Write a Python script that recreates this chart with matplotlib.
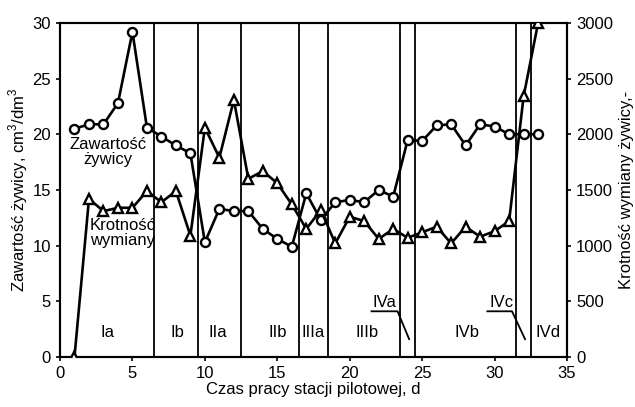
import matplotlib
matplotlib.use('Agg')
import matplotlib.pyplot as plt

plt.rcParams['font.family'] = ['Liberation Sans', 'DejaVu Sans']
plt.rcParams['mathtext.fontset'] = 'custom'
plt.rcParams['mathtext.rm'] = 'Liberation Sans'

days = list(range(1, 34))
resin = [20.5, 20.9, 20.9, 22.8, 29.2, 20.6, 19.8, 19.0, 18.3, 10.3,
         13.3, 13.1, 13.1, 11.5, 10.6, 9.9, 14.7, 12.3, 13.9, 14.1,
         13.9, 15.0, 14.4, 19.5, 19.4, 20.8, 20.9, 19.0, 20.9, 20.7,
         20.0, 20.0, 20.0]
exchange = [0, 1420, 1310, 1340, 1340, 1490, 1390, 1490, 1090, 2060,
            1790, 2310, 1600, 1670, 1560, 1370, 1150, 1320, 1020, 1260,
            1220, 1060, 1150, 1070, 1120, 1170, 1020, 1170, 1080, 1130,
            1220, 2340, 3000]

borders = [6.5, 9.5, 12.5, 16.5, 18.5, 23.5, 24.5, 31.5, 32.5]
stage_names = ['Ia', 'Ib', 'IIa', 'IIb', 'IIIa', 'IIIb', 'IVb', 'IVd']
stage_x = [3.3, 8.1, 10.9, 15.0, 17.5, 21.2, 28.1, 33.7]

fig = plt.figure(figsize=(6.35, 4.07), dpi=100)
ax = fig.add_axes([0.0945, 0.123, 0.7985, 0.8205])
ax2 = ax.twinx()

for b in borders:
    ax.axvline(b, color='black', lw=1.3, zorder=1)

ax.plot(days, resin, color='black', lw=1.9, marker='o', ms=6.5,
        mfc='white', mec='black', mew=1.7, zorder=3)
ax2.plot(days, exchange, color='black', lw=1.9, marker='^', ms=6.5,
         mfc='white', mec='black', mew=1.7, zorder=3)

for name, xs in zip(stage_names, stage_x):
    ax.text(xs, 2.2, name, ha='center', va='center', fontsize=12)

# odnosniki IVa i IVc
ax.text(22.4, 4.85, 'IVa', ha='center', va='center', fontsize=12)
ax.plot([21.5, 23.3, 24.1], [4.1, 4.1, 1.6], color='black', lw=1.3)
ax.text(30.5, 4.85, 'IVc', ha='center', va='center', fontsize=12)
ax.plot([29.5, 31.2, 32.1], [4.1, 4.1, 1.6], color='black', lw=1.3)

ax.text(3.3, 18.4, 'Zawartość\nżywicy', ha='center', va='center',
        fontsize=12, linespacing=1.0)
ax.text(4.3, 11.1, 'Krotność\nwymiany', ha='center', va='center',
        fontsize=12, linespacing=1.0)

ax.set_xlim(0, 35)
ax.set_ylim(0, 30)
ax2.set_ylim(0, 3000)
ax.set_xticks(range(0, 36, 5))
ax.set_yticks(range(0, 31, 5))
ax2.set_yticks(range(0, 3001, 500))
ax.tick_params(labelsize=12, length=3, width=1.2)
ax2.tick_params(labelsize=12, length=3, width=1.2)
for a in (ax, ax2):
    for s in a.spines.values():
        s.set_linewidth(1.5)

ax.set_xlabel('Czas pracy stacji pilotowej, d', fontsize=12, labelpad=1)
ax.set_ylabel('Zawartość żywicy, cm$^3$/dm$^3$', fontsize=12, labelpad=2)
ax2.set_ylabel('Krotność wymiany żywicy,-', fontsize=12, labelpad=4)

fig.savefig('out.png', dpi=100)
